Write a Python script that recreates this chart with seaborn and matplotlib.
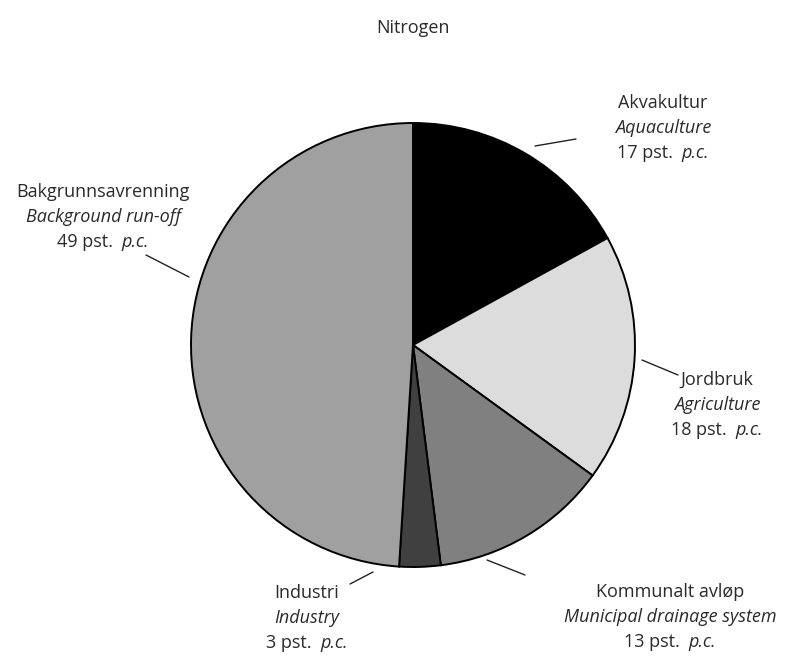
import matplotlib
matplotlib.use("Agg")
import matplotlib.pyplot as plt
import seaborn as sns

sns.set_theme(style="white")
plt.rcParams['font.family'] = ['Open Sans', 'DejaVu Sans']

# Data
names_no = ["Akvakultur", "Jordbruk", "Kommunalt avløp", "Industri", "Bakgrunnsavrenning"]
names_en = ["Aquaculture", "Agriculture", "Municipal drainage system", "Industry", "Background run-off"]
shares = [17, 18, 13, 3, 49]
colors = ["#000000", "#dcdcdc", "#808080", "#404040", "#a0a0a0"]
title = "Nitrogen"

W, H = 799, 657
fig = plt.figure(figsize=(W / 100, H / 100), dpi=100)
ax = fig.add_axes([0, 0, 1, 1])
ax.set_xlim(0, W)
ax.set_ylim(0, H)
ax.set_aspect('equal')
ax.axis('off')

def Y(y):
    return H - y

cx, cy, r = 413, 345, 222
ax.pie(shares, colors=colors, startangle=90, counterclock=False,
       center=(cx, Y(cy)), radius=r,
       wedgeprops=dict(edgecolor="black", linewidth=1.4))
ax.set_xlim(0, W)
ax.set_ylim(0, H)

txtcol = "#2a2a2a"
fs = 13

ax.text(413, Y(28), title, ha='center', va='center', fontsize=fs, color=txtcol)

# label centers (x, first line y) and leader lines
label_pos = [(663, 103), (717, 380), (670, 592), (307, 593), (103, 192)]
leaders = [((535, 146), (576, 139)), ((642, 360), (678, 375)),
           ((487, 560), (525, 575)), ((373, 572), (350, 584)),
           ((146, 255), (189, 277))]
dy = 25

fig.canvas.draw()
renderer = fig.canvas.get_renderer()

for i in range(len(shares)):
    x, y = label_pos[i]
    ax.text(x, Y(y), names_no[i], ha='center', va='center', fontsize=fs, color=txtcol)
    ax.text(x, Y(y + dy), names_en[i], ha='center', va='center', fontsize=fs,
            color=txtcol, style='italic')
    t1 = ax.text(0, Y(y + 2 * dy), f"{shares[i]} pst.  ", ha='left', va='center',
                 fontsize=fs, color=txtcol)
    t2 = ax.text(0, Y(y + 2 * dy), "p.c.", ha='left', va='center', fontsize=fs,
                 color=txtcol, style='italic')
    w1 = t1.get_window_extent(renderer).width
    w2 = t2.get_window_extent(renderer).width
    total = w1 + w2
    x0 = x - total / 2
    t1.set_x(x0)
    t2.set_x(x0 + w1)
    (a, b) = leaders[i]
    ax.plot([a[0], b[0]], [Y(a[1]), Y(b[1])], color="#222222", linewidth=1.0)

fig.savefig("out.png", dpi=100, facecolor="white")
